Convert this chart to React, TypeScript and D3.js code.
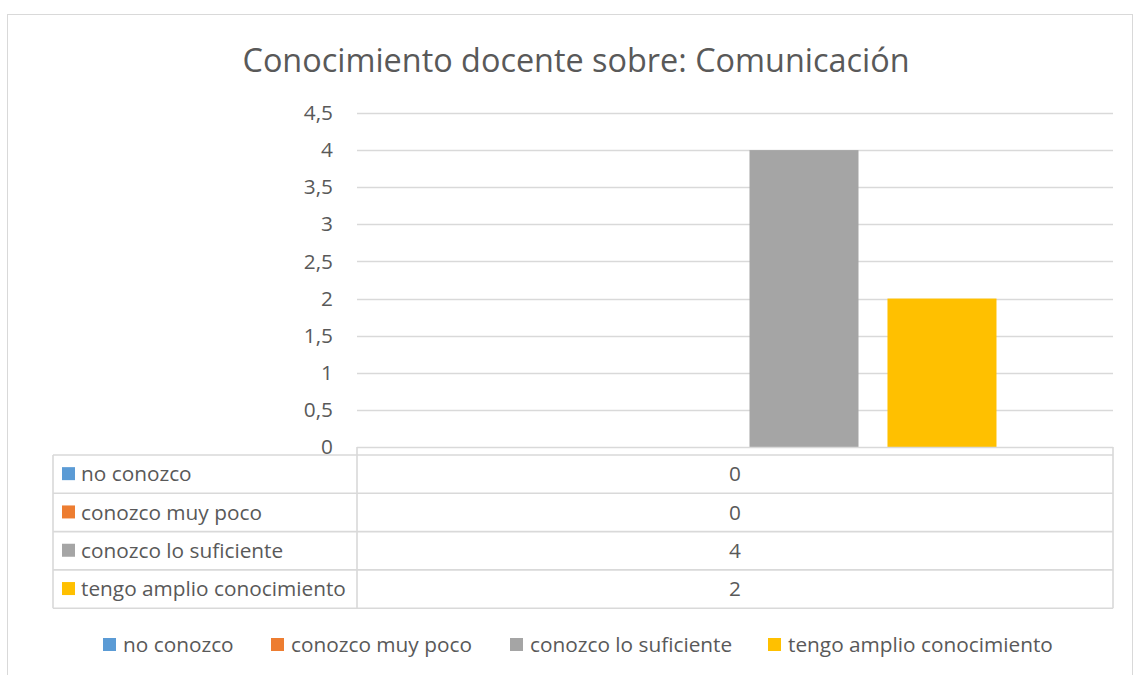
import { useEffect, useRef } from 'react';
import { select, scaleLinear, scaleBand, axisLeft, formatLocale } from 'd3';

const title = 'Conocimiento docente sobre: Comunicación';
const categories = ['Comunicación'];
const seriesNames = [
  'no conozco',
  'conozco muy poco',
  'conozco lo suficiente',
  'tengo amplio conocimiento',
];
const seriesValues = [0, 0, 4, 2];
const seriesColors = ['#5B9BD5', '#ED7D31', '#A5A5A5', '#FFC000'];
const yTicks = [0, 0.5, 1, 1.5, 2, 2.5, 3, 3.5, 4, 4.5];

const FONT = '"Open Sans", sans-serif';
const TEXT = '#595959';
const GRID = '#D9D9D9';
const LABEL_SIZE = 20.8;

const esFormat = formatLocale({
  decimal: ',',
  thousands: '.',
  grouping: [3],
  currency: ['', ' €'],
}).format('~g');

const App = () => {
  const svgRef = useRef<SVGSVGElement>(null);

  useEffect(() => {
    const svg = select(svgRef.current);
    svg.selectAll('*').remove();

    const width = 1133;
    const height = 675;
    const plot = { left: 357, right: 1113, top: 113, bottom: 447 };

    // chart frame
    svg
      .append('rect')
      .attr('x', 7.5)
      .attr('y', 14.5)
      .attr('width', width - 8)
      .attr('height', height)
      .attr('fill', '#fff')
      .attr('stroke', GRID);

    svg
      .append('text')
      .attr('x', 576)
      .attr('y', 72)
      .attr('text-anchor', 'middle')
      .attr('font-family', FONT)
      .attr('font-size', 32.4)
      .attr('fill', TEXT)
      .text(title);

    const yScale = scaleLinear().domain([0, 4.5]).range([plot.bottom, plot.top]);

    const xScale = scaleBand()
      .domain(categories)
      .range([plot.left, plot.right])
      .paddingOuter(0.2228)
      .paddingInner(0);

    const inner = scaleBand()
      .domain(seriesNames)
      .range([0, xScale.bandwidth()])
      .paddingInner(0.21)
      .paddingOuter(0);

    // gridlines
    svg
      .append('g')
      .selectAll('line')
      .data(yTicks.slice(1))
      .join('line')
      .attr('x1', plot.left)
      .attr('x2', plot.right)
      .attr('y1', (d) => Math.round(yScale(d)) + 0.5)
      .attr('y2', (d) => Math.round(yScale(d)) + 0.5)
      .attr('stroke', GRID)
      .attr('stroke-width', 1.3);

    const yAxis = axisLeft(yScale)
      .tickValues(yTicks)
      .tickSize(0)
      .tickPadding(24)
      .tickFormat((d) => esFormat(d as number));
    const yg = svg
      .append('g')
      .attr('transform', `translate(${plot.left}, 0)`)
      .call(yAxis);
    yg.select('.domain').remove();
    yg.selectAll('text')
      .attr('font-family', FONT)
      .attr('font-size', LABEL_SIZE)
      .attr('fill', TEXT);

    // bars
    categories.forEach((cat) => {
      svg
        .append('g')
        .selectAll('rect')
        .data(seriesNames)
        .join('rect')
        .attr('x', (s) => (xScale(cat) ?? 0) + (inner(s) ?? 0))
        .attr('y', (s, i) => yScale(seriesValues[i]))
        .attr('width', inner.bandwidth())
        .attr('height', (s, i) => plot.bottom - yScale(seriesValues[i]))
        .attr('fill', (s, i) => seriesColors[i]);
    });

    // data table
    const tableLeft = 53;
    const tableTop = 455;
    const rowH = 38.3;
    const tableBottom = tableTop + rowH * seriesNames.length;
    const table = svg.append('g');
    const line = (x1: number, y1: number, x2: number, y2: number) =>
      table
        .append('line')
        .attr('x1', x1)
        .attr('y1', y1)
        .attr('x2', x2)
        .attr('y2', y2)
        .attr('stroke', GRID)
        .attr('stroke-width', 1.6);

    line(plot.left, plot.bottom + 0.5, plot.right, plot.bottom + 0.5);
    line(plot.left, plot.bottom, plot.left, tableBottom);
    line(plot.right, plot.bottom, plot.right, tableBottom);
    line(tableLeft, tableTop, tableLeft, tableBottom);
    seriesNames.forEach((s, i) => {
      line(tableLeft, tableTop + rowH * i, plot.right, tableTop + rowH * i);
    });
    line(tableLeft, tableBottom, plot.right, tableBottom);

    const rows = table
      .selectAll('g.row')
      .data(seriesNames)
      .join('g')
      .attr('class', 'row')
      .attr('transform', (s, i) => `translate(0, ${tableTop + rowH * i + rowH / 2})`);

    rows
      .append('rect')
      .attr('x', 62)
      .attr('y', -7)
      .attr('width', 13)
      .attr('height', 13)
      .attr('fill', (s, i) => seriesColors[i]);
    rows
      .append('text')
      .attr('x', 81)
      .attr('dy', '0.35em')
      .attr('font-family', FONT)
      .attr('font-size', LABEL_SIZE)
      .attr('fill', TEXT)
      .text((s) => s);
    rows
      .append('text')
      .attr('x', (plot.left + plot.right) / 2)
      .attr('dy', '0.35em')
      .attr('text-anchor', 'middle')
      .attr('font-family', FONT)
      .attr('font-size', LABEL_SIZE)
      .attr('fill', TEXT)
      .text((s, i) => esFormat(seriesValues[i]));

    // legend
    const legendX = [103, 271, 510, 768];
    const legend = svg
      .append('g')
      .selectAll('g')
      .data(seriesNames)
      .join('g')
      .attr('transform', (s, i) => `translate(${legendX[i]}, 645)`);
    legend
      .append('rect')
      .attr('y', -7)
      .attr('width', 13)
      .attr('height', 13)
      .attr('fill', (s, i) => seriesColors[i]);
    legend
      .append('text')
      .attr('x', 20)
      .attr('dy', '0.35em')
      .attr('font-family', FONT)
      .attr('font-size', LABEL_SIZE)
      .attr('fill', TEXT)
      .text((s) => s);
  }, []);

  return (
    <svg
      ref={svgRef}
      width={1133}
      height={675}
      style={{ position: 'fixed', left: 0, top: 0, background: '#fff' }}
    />
  );
};

export default App;
